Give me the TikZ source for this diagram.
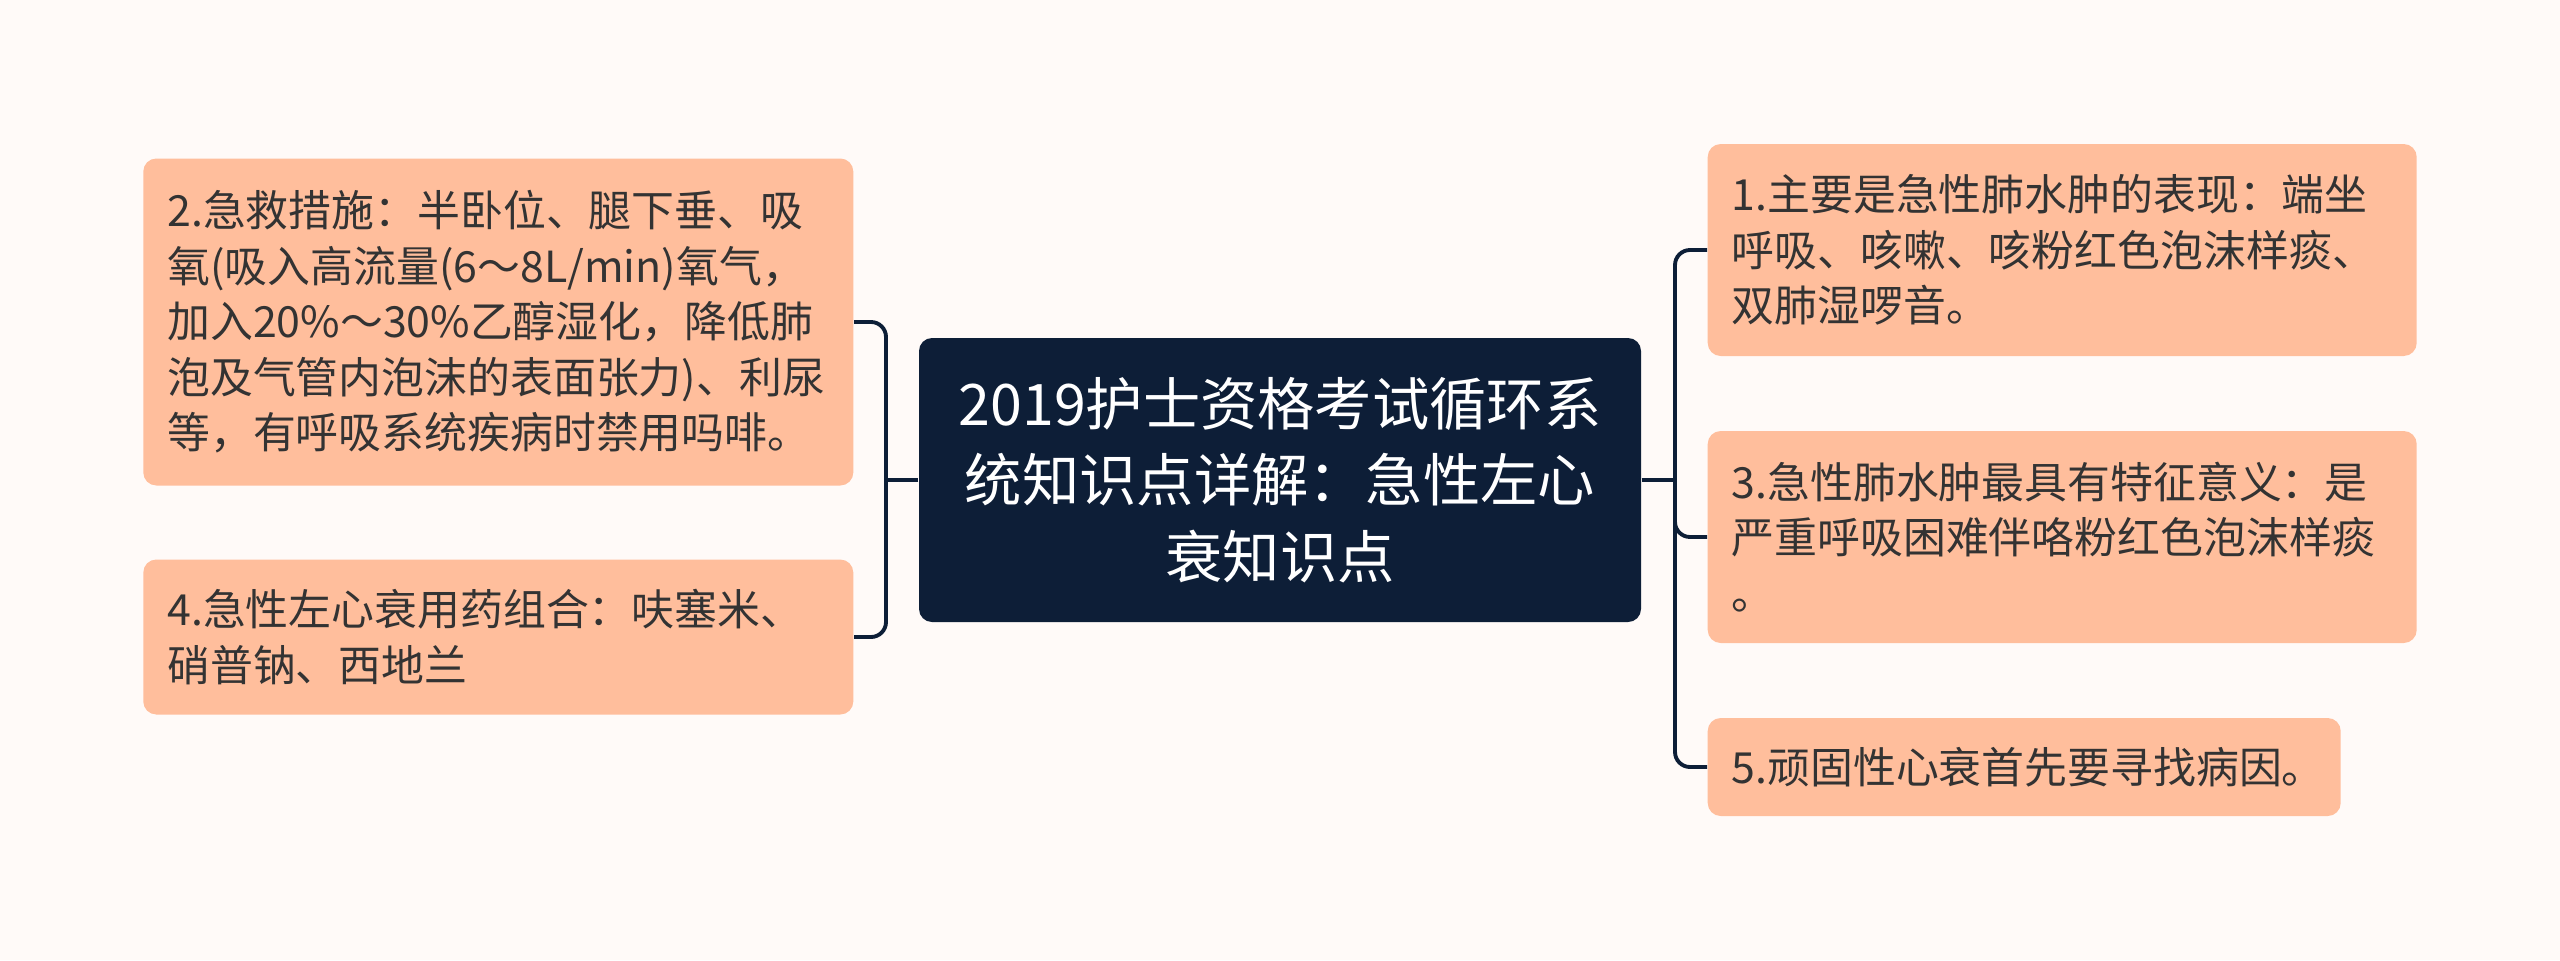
\documentclass[tikz,border=0pt]{standalone}
\usepackage{fontspec}
\setmainfont{Noto Sans CJK SC}

\definecolor{bgcol}{HTML}{FFFAF8}
\definecolor{leafcol}{HTML}{FFBE9C}
\definecolor{rootcol}{HTML}{0D1E37}
\definecolor{txtcol}{HTML}{333333}

\tikzset{
    leaf/.style={rectangle, rounded corners=0.13cm, fill=leafcol, text=txtcol,
        font=\fontsize{12.2pt}{15.8pt}\selectfont, align=left,
        inner xsep=0.24cm, inner ysep=0pt},
    root/.style={rectangle, rounded corners=0.13cm, fill=rootcol, text=white,
        font=\fontsize{16.3pt}{21.8pt}\selectfont, align=center,
        minimum width=7.22cm, minimum height=2.84cm},
    branch/.style={draw=rootcol, line width=1.1pt, rounded corners=0.15cm},
}

\begin{document}
\begin{tikzpicture}
        % 背景与画布大小
        \fill[bgcol] (0,0) rectangle (25.6,9.6);
        \useasboundingbox (0,0) rectangle (25.6,9.6);

        % 中心主题
        \node[root] (root) at (12.80,4.80) {2019护士资格考试循环系\\统知识点详解：急性左心\\衰知识点};

        % 左侧分支
        \node[leaf, text width=6.62cm, minimum height=3.27cm, anchor=east] (p2) at (8.54,6.38)
            {2.急救措施：半卧位、腿下垂、吸\\氧(吸入高流量(6～8L/min)氧气，\\加入20\%～30\%乙醇湿化，降低肺\\泡及气管内泡沫的表面张力)、利尿\\等，有呼吸系统疾病时禁用吗啡。};
        \node[leaf, text width=6.62cm, minimum height=1.55cm, anchor=east] (p4) at (8.54,3.23)
            {4.急性左心衰用药组合：呋塞米、\\硝普钠、西地兰};

        % 右侧分支
        \node[leaf, text width=6.61cm, minimum height=2.12cm, anchor=west] (p1) at (17.07,7.10)
            {1.主要是急性肺水肿的表现：端坐\\呼吸、咳嗽、咳粉红色泡沫样痰、\\双肺湿啰音。};
        \node[leaf, text width=6.61cm, minimum height=2.12cm, anchor=west] (p3) at (17.07,4.23)
            {3.急性肺水肿最具有特征意义：是\\严重呼吸困难伴咯粉红色泡沫样痰\\。};
        \node[leaf, text width=5.85cm, minimum height=0.98cm, anchor=west] (p5) at (17.07,1.93)
            {5.顽固性心衰首先要寻找病因。};

        % 分叉点
        \coordinate (lfork) at (8.86,4.80);
        \coordinate (rfork) at (16.75,4.80);

        % 连线
        \draw[rootcol, line width=0.9pt] (root.west) -- (lfork);
        \draw[rootcol, line width=0.9pt] (root.east) -- (rfork);
        \foreach \n in {p2,p4}
            \draw[branch] (lfork) |- (\n.east);
        \foreach \n in {p1,p3,p5}
            \draw[branch] (rfork) |- (\n.west);
    \end{tikzpicture}
\end{document}
